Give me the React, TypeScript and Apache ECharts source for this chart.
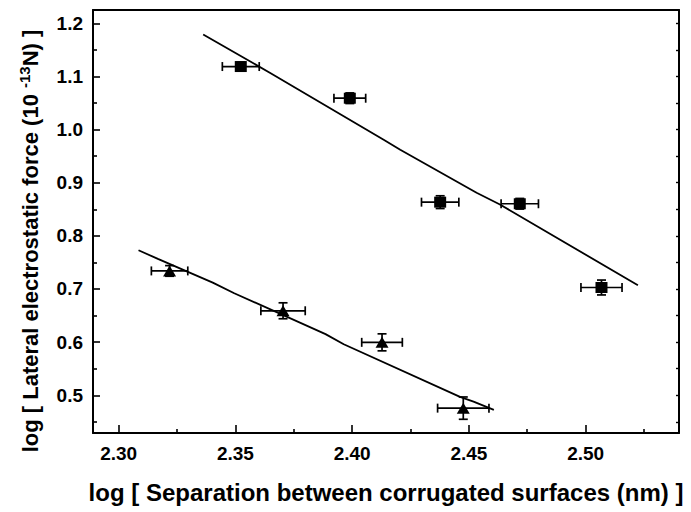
import React, { useEffect, useRef } from "react";
import * as echarts from "echarts";

// Square series: [x, y, xErr, yErr]
const squarePoints: number[][] = [
  [2.3523, 1.1186, 0.0079, 0.008],
  [2.3990, 1.0590, 0.0068, 0.010],
  [2.4377, 0.8634, 0.0080, 0.012],
  [2.4718, 0.8604, 0.0080, 0.010],
  [2.5068, 0.7028, 0.0088, 0.014],
];
// Triangle series: [x, y, xErr, yErr]
const trianglePoints: number[][] = [
  [2.3218, 0.7340, 0.0078, 0.010],
  [2.3704, 0.6590, 0.0095, 0.015],
  [2.4128, 0.5996, 0.0087, 0.016],
  [2.4476, 0.4758, 0.0110, 0.021],
];
// Fit lines
const squareFit: number[][] = [
  [2.3362, 1.179],
  [2.3651, 1.106],
  [2.4135, 0.981],
  [2.4206, 0.962],
  [2.4533, 0.881],
  [2.4633, 0.859],
  [2.5224, 0.707],
];
const triangleFit: number[][] = [
  [2.3085, 0.773],
  [2.3168, 0.7566],
  [2.3403, 0.712],
  [2.3495, 0.692],
  [2.3886, 0.615],
  [2.3964, 0.596],
  [2.4462, 0.497],
  [2.4520, 0.488],
  [2.4607, 0.4726],
];

const xMajorTicks = [2.3, 2.35, 2.4, 2.45, 2.5];
const xMinorTicks = [2.325, 2.375, 2.425, 2.475, 2.525];
const yMajorTicks = [0.5, 0.6, 0.7, 0.8, 0.9, 1.0, 1.1, 1.2];
const yMinorTicks = [0.45, 0.55, 0.65, 0.75, 0.85, 0.95, 1.05, 1.15];

const X_MIN = 2.289;
const X_MAX = 2.54;
const Y_MIN = 0.429;
const Y_MAX = 1.225;

const FONT = "'Liberation Sans', Arial, sans-serif";

const errorBarSeries = (data: number[][]) => ({
  type: "custom",
  xAxisIndex: 0,
  yAxisIndex: 0,
  data,
  encode: { x: 0, y: 1 },
  z: 3,
  renderItem: (_params: any, api: any) => {
    const x = api.value(0);
    const y = api.value(1);
    const ex = api.value(2);
    const ey = api.value(3);
    const l = api.coord([x - ex, y]);
    const r = api.coord([x + ex, y]);
    const t = api.coord([x, y + ey]);
    const b = api.coord([x, y - ey]);
    const c = 4.5;
    const style = { stroke: "#000", lineWidth: 1.7, fill: "none" };
    return {
      type: "group",
      children: [
        { type: "line", shape: { x1: l[0], y1: l[1], x2: r[0], y2: r[1] }, style },
        { type: "line", shape: { x1: l[0], y1: l[1] - c, x2: l[0], y2: l[1] + c }, style },
        { type: "line", shape: { x1: r[0], y1: r[1] - c, x2: r[0], y2: r[1] + c }, style },
        { type: "line", shape: { x1: t[0], y1: t[1], x2: b[0], y2: b[1] }, style },
        { type: "line", shape: { x1: t[0] - c, y1: t[1], x2: t[0] + c, y2: t[1] }, style },
        { type: "line", shape: { x1: b[0] - c, y1: b[1], x2: b[0] + c, y2: b[1] }, style },
      ],
    };
  },
});

export default function App() {
  const ref = useRef<HTMLDivElement>(null);
  useEffect(() => {
    if (!ref.current) return;
    const chart = echarts.init(ref.current, null, { renderer: "svg" });
    const axisLine = { show: true, lineStyle: { color: "#000", width: 2 } };
    const labelStyle = {
      color: "#000",
      fontFamily: FONT,
      fontWeight: "bold",
      fontSize: 19,
    };
    const option: any = {
      animation: false,
      backgroundColor: "#fff",
      grid: { left: 93, top: 10, right: 12, bottom: 79, containLabel: false },
      xAxis: [
        {
          type: "value",
          min: X_MIN,
          max: X_MAX,
          position: "bottom",
          axisLine,
          axisTick: {
            show: true,
            inside: true,
            length: 8,
            customValues: xMajorTicks,
            lineStyle: { color: "#000", width: 1.6 },
          },
          axisLabel: {
            ...labelStyle,
            margin: 11,
            customValues: xMajorTicks,
            formatter: (v: number) => v.toFixed(2),
          },
          splitLine: { show: false },
        },
        {
          type: "value",
          min: X_MIN,
          max: X_MAX,
          position: "bottom",
          axisLine: { show: false },
          axisTick: {
            show: true,
            inside: true,
            length: 4,
            customValues: xMinorTicks,
            lineStyle: { color: "#000", width: 1.6 },
          },
          axisLabel: { show: false },
          splitLine: { show: false },
        },
        {
          type: "value",
          min: X_MIN,
          max: X_MAX,
          position: "top",
          axisLine,
          axisTick: { show: false },
          axisLabel: { show: false },
          splitLine: { show: false },
        },
      ],
      yAxis: [
        {
          type: "value",
          min: Y_MIN,
          max: Y_MAX,
          position: "left",
          axisLine,
          axisTick: {
            show: true,
            inside: true,
            length: 7,
            customValues: yMajorTicks,
            lineStyle: { color: "#000", width: 1.6 },
          },
          axisLabel: {
            ...labelStyle,
            margin: 10,
            customValues: yMajorTicks,
            formatter: (v: number) => v.toFixed(1),
          },
          splitLine: { show: false },
        },
        {
          type: "value",
          min: Y_MIN,
          max: Y_MAX,
          position: "left",
          axisLine: { show: false },
          axisTick: {
            show: true,
            inside: true,
            length: 4,
            customValues: yMinorTicks,
            lineStyle: { color: "#000", width: 1.6 },
          },
          axisLabel: { show: false },
          splitLine: { show: false },
        },
        {
          type: "value",
          min: Y_MIN,
          max: Y_MAX,
          position: "right",
          axisLine,
          axisTick: {
            show: true,
            inside: true,
            length: 3,
            customValues: [...yMinorTicks, ...yMajorTicks],
            lineStyle: { color: "#000", width: 1.4 },
          },
          axisLabel: { show: false },
          splitLine: { show: false },
        },
      ],
      graphic: [
        {
          type: "text",
          x: 386,
          y: 492,
          style: {
            text: "log [ Separation between corrugated surfaces (nm) ]",
            fill: "#000",
            font: `bold 24px ${FONT}`,
            align: "center",
            verticalAlign: "middle",
          },
        },
        {
          type: "text",
          x: 29,
          y: 241,
          rotation: Math.PI / 2,
          style: {
            text: "{a|log [ Lateral electrostatic force (10 }{s|-13}{a|N) ]}",
            fill: "#000",
            align: "center",
            verticalAlign: "middle",
            rich: {
              a: {
                fontFamily: FONT,
                fontWeight: "bold",
                fontSize: 22,
                fill: "#000",
                lineHeight: 25,
                verticalAlign: "bottom",
              },
              s: {
                fontFamily: FONT,
                fontWeight: "bold",
                fontSize: 15,
                fill: "#000",
                lineHeight: 25,
                verticalAlign: "top",
              },
            },
          },
        },
      ],
      series: [
        {
          type: "line",
          xAxisIndex: 0,
          yAxisIndex: 0,
          data: squareFit,
          showSymbol: false,
          symbol: "none",
          lineStyle: { color: "#000", width: 1.8 },
          z: 2,
        },
        {
          type: "line",
          xAxisIndex: 0,
          yAxisIndex: 0,
          data: triangleFit,
          showSymbol: false,
          symbol: "none",
          lineStyle: { color: "#000", width: 1.8 },
          z: 2,
        },
        errorBarSeries(squarePoints),
        errorBarSeries(trianglePoints),
        {
          type: "scatter",
          xAxisIndex: 0,
          yAxisIndex: 0,
          data: squarePoints.map((p) => [p[0], p[1]]),
          symbol: "rect",
          symbolSize: [12, 11],
          itemStyle: { color: "#000", opacity: 1 },
          z: 4,
        },
        {
          type: "scatter",
          xAxisIndex: 0,
          yAxisIndex: 0,
          data: trianglePoints.map((p) => [p[0], p[1]]),
          symbol: "triangle",
          symbolSize: [13, 11],
          itemStyle: { color: "#000", opacity: 1 },
          z: 4,
        },
      ],
    };
    chart.setOption(option);
    return () => chart.dispose();
  }, []);
  return (
    <div
      ref={ref}
      style={{ position: "fixed", left: 0, top: 0, width: 691, height: 512 }}
    />
  );
}
